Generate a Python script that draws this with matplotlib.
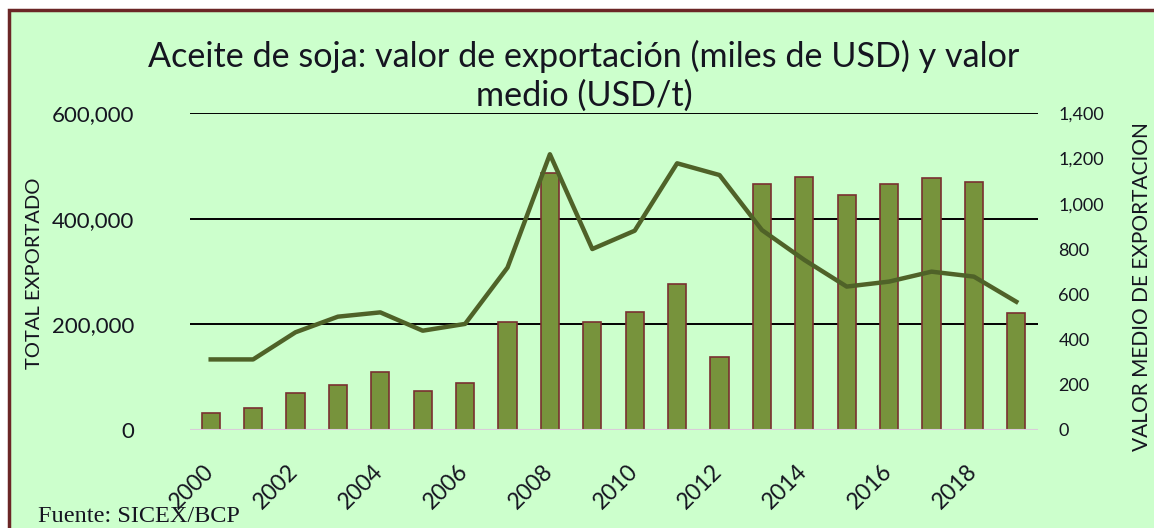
import matplotlib
matplotlib.use("Agg")
import matplotlib.pyplot as plt
import matplotlib.transforms as mtransforms
from matplotlib.patches import Rectangle
from matplotlib.ticker import FuncFormatter, MultipleLocator

years = list(range(2000, 2020))
export_value = [31600, 42300, 70700, 85300, 109300, 73900, 88400, 205200, 487500, 205200,
                223000, 276000, 137700, 466100, 480000, 444600, 466100, 476800, 470500, 222300]
mean_value = [312, 312, 432, 501, 520, 439, 469, 718, 1219, 800,
              881, 1179, 1127, 884, 752, 634, 656, 700, 678, 567]

title = "Aceite de soja: valor de exportación (miles de USD) y valor\nmedio (USD/t)"
left_label = "TOTAL EXPORTADO"
right_label = "VALOR MEDIO DE EXPORTACION"
source = "Fuente: SICEX/BCP"

FONT = "Lato"
TXT = "#151520"
BG = "#CCFFCC"

W, H = 1154, 528
fig = plt.figure(figsize=(W / 100, H / 100), dpi=100)
fig.patch.set_facecolor("white")
fig.patches.append(Rectangle((9 / W, -0.1), 1.2, (H - 9.5) / H + 0.1, transform=fig.transFigure,
                             facecolor=BG, edgecolor="#6B2626", linewidth=2.5, zorder=-10))

ax = fig.add_axes([189.5 / W, 98 / H, 848 / W, 316.7 / H])
ax.set_facecolor("none")
x = list(range(len(years)))
ax.bar(x, export_value, width=0.43, color="#77933C", edgecolor="#7A3030", linewidth=1.2, zorder=3)
ax.set_xlim(-0.5, len(years) - 0.5)
ax.set_ylim(0, 600000)
ax.yaxis.set_major_locator(MultipleLocator(200000))
ax.yaxis.set_major_formatter(FuncFormatter(lambda v, p: f"{int(v):,}"))
for v in [200000, 400000, 600000]:
    ax.axhline(v, color="black", linewidth=1.4, zorder=1)
ax.axhline(0, color="#D9CCD9", linewidth=1.5, zorder=4)
for s in ax.spines.values():
    s.set_visible(False)
ax.tick_params(axis="y", length=0, pad=40, labelsize=16, labelcolor=TXT)
ax.tick_params(axis="x", length=0, pad=12, labelsize=16.5, labelcolor=TXT)
for lab in ax.get_yticklabels():
    lab.set_fontfamily(FONT)
ax.set_xticks(x[::2])
ax.set_xticklabels([str(y) for y in years[::2]], rotation=45, ha="right",
                   rotation_mode="anchor", fontfamily=FONT)
shift = mtransforms.ScaledTranslation(-8 / 100, -14 / 100, fig.dpi_scale_trans)
for lab in ax.get_xticklabels():
    lab.set_transform(lab.get_transform() + shift)
ax.set_ylabel(left_label, fontsize=14.5, fontfamily=FONT, color=TXT)
ax.yaxis.set_label_coords((43 - 189.5) / 848, 0.495)

ax2 = ax.twinx()
ax2.plot(x, mean_value, color="#4F6228", linewidth=3.2, zorder=5, solid_joinstyle="round")
ax2.set_ylim(0, 1400)
ax2.yaxis.set_major_locator(MultipleLocator(200))
ax2.yaxis.set_major_formatter(FuncFormatter(lambda v, p: f"{int(v):,}"))
for s in ax2.spines.values():
    s.set_visible(False)
ax2.tick_params(axis="y", length=0, pad=15, labelsize=13, labelcolor=TXT)
for lab in ax2.get_yticklabels():
    lab.set_fontfamily(FONT)
ax2.set_ylabel(right_label, fontsize=15, fontfamily=FONT, color=TXT, rotation=90)
ax2.yaxis.set_label_coords((1132 - 189.5) / 848, (430 - 287) / 316.7)

fig.text(584 / W, 1 - 76 / H, title, ha="center", va="center", fontsize=24.6,
         fontfamily=FONT, color=TXT, linespacing=1.24)
fig.text(38 / W, 1 - 521.5 / H, source, ha="left", va="baseline", fontsize=17.5,
         fontfamily="Liberation Serif", color=TXT)

fig.savefig("out.png", dpi=100, facecolor=fig.get_facecolor())
